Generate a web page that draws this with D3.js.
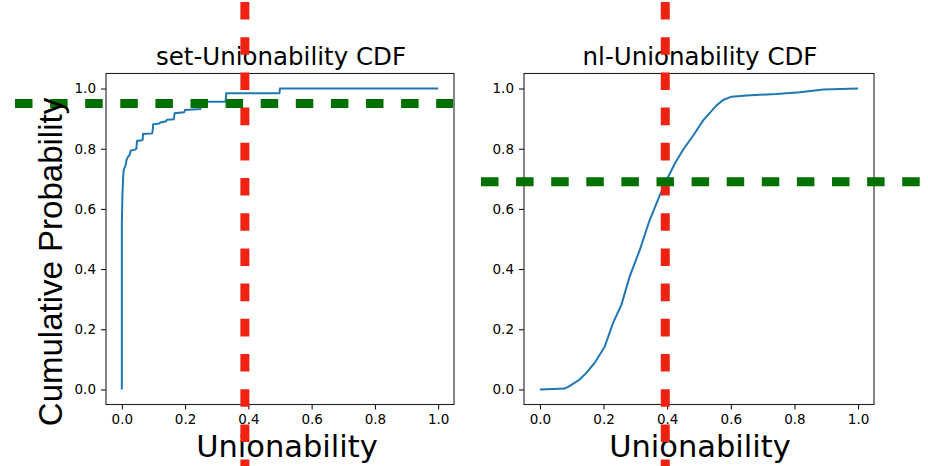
<!DOCTYPE html>
<html>
<head>
<meta charset="utf-8">
<script src="https://cdn.jsdelivr.net/npm/d3@7"></script>
<style>
  body { margin: 0; background: #fff; }
  text { font-family: "DejaVu Sans", sans-serif; }
</style>
</head>
<body>
<div id="chart"></div>
<script>
// set-Unionability CDF (step-like)
var setX = [0, 0, 0.001, 0.002, 0.004, 0.006, 0.012, 0.015, 0.02, 0.025, 0.028, 0.042, 0.046, 0.048,
            0.063, 0.066, 0.067, 0.096, 0.098, 0.099, 0.118, 0.122, 0.14, 0.142, 0.164, 0.166, 0.167,
            0.196, 0.198, 0.2, 0.248, 0.25, 0.251, 0.328, 0.33, 0.498, 0.5, 1.0];
var setY = [0, 0.55, 0.6, 0.65, 0.7, 0.73, 0.745, 0.763, 0.774, 0.78, 0.794, 0.797, 0.8, 0.826,
            0.828, 0.83, 0.849, 0.851, 0.865, 0.881, 0.884, 0.887, 0.891, 0.896, 0.898, 0.91, 0.918,
            0.921, 0.923, 0.929, 0.932, 0.945, 0.956, 0.956, 0.984, 0.984, 1.0, 1.0];

// nl-Unionability CDF (smooth S)
var nlX = [0, 0.078, 0.093, 0.125, 0.146, 0.172, 0.204, 0.23, 0.256, 0.282, 0.314, 0.345, 0.377,
           0.403, 0.424, 0.452, 0.482, 0.513, 0.555, 0.576, 0.602, 0.65, 0.744, 0.817, 0.891, 1.0];
var nlY = [0, 0.003, 0.011, 0.033, 0.055, 0.088, 0.143, 0.221, 0.281, 0.375, 0.464, 0.563, 0.646,
           0.706, 0.751, 0.80, 0.844, 0.894, 0.944, 0.962, 0.973, 0.977, 0.982, 0.988, 0.997, 1.0];

var ticks = [0, 0.2, 0.4, 0.6, 0.8, 1.0];
var titles = ["set-Unionability CDF", "nl-Unionability CDF"];
var xLabel = "Unionability";
var yLabel = "Cumulative Probability";

// thresholds drawn over the figure
var redX = [0.389, 0.394];
var greenY = [0.95, 0.69];

var width = 928, height = 466;

var svg = d3.select("#chart")
            .append("svg")
            .attr("width", width)
            .attr("height", height);

svg.append("rect")
   .attr("width", width)
   .attr("height", height)
   .attr("fill", "#fff");

// panel positions
var panels = [
  {left: 106, right: 454, x: setX, y: setY, green: [15, 453], labelShift: 7},
  {left: 524, right: 874, x: nlX, y: nlY, green: [481, 921], labelShift: 1}
];
var plotTop = 73.5, plotBottom = 404.5;

panels.forEach(function(p, i) {
  var x = d3.scaleLinear().domain([-0.05, 1.05]).range([p.left, p.right]);
  var y = d3.scaleLinear().domain([-0.05, 1.05]).range([plotBottom, plotTop]);
  p.xs = x; p.ys = y;

  var g = svg.append("g");

  // x axis
  var xa = g.append("g")
            .attr("transform", "translate(0," + plotBottom + ")")
            .call(d3.axisBottom(x).tickValues(ticks).tickFormat(d3.format(".1f"))
                    .tickSize(5).tickPadding(5));
  // y axis
  var ya = g.append("g")
            .attr("transform", "translate(" + p.left + ",0)")
            .call(d3.axisLeft(y).tickValues(ticks).tickFormat(d3.format(".1f"))
                    .tickSize(5).tickPadding(5));

  [xa, ya].forEach(function(a) {
    a.attr("font-size", null).attr("font-family", null);
    a.select(".domain").remove();
    a.selectAll("text")
     .style("font-family", "DejaVu Sans")
     .style("font-size", "13.5px")
     .attr("fill", "#000");
    a.selectAll("line").attr("stroke", "#000").attr("stroke-width", 1);
  });

  // frame
  g.append("rect")
   .attr("x", p.left)
   .attr("y", plotTop)
   .attr("width", p.right - p.left)
   .attr("height", plotBottom - plotTop)
   .attr("fill", "none")
   .attr("stroke", "#222")
   .attr("stroke-width", 1.1);

  // curve
  var line = d3.line()
               .x(function(d) { return x(d[0]); })
               .y(function(d) { return y(d[1]); });

  g.append("path")
   .datum(d3.zip(p.x, p.y))
   .attr("d", line)
   .attr("fill", "none")
   .attr("stroke", "#1f77b4")
   .attr("stroke-width", 2);

  // title
  g.append("text")
   .attr("x", (p.left + p.right) / 2 + 1)
   .attr("y", 65)
   .attr("text-anchor", "middle")
   .style("font-size", "24.5px")
   .text(titles[i]);

  // x label
  g.append("text")
   .attr("x", (p.left + p.right) / 2 + p.labelShift)
   .attr("y", 457)
   .attr("text-anchor", "middle")
   .style("font-size", "30.5px")
   .text(xLabel);
});

// red vertical dashed lines over the whole figure height
panels.forEach(function(p, i) {
  svg.append("line")
     .attr("x1", p.xs(redX[i]))
     .attr("x2", p.xs(redX[i]))
     .attr("y1", 2)
     .attr("y2", height)
     .attr("stroke", "#f02312")
     .attr("stroke-width", 9)
     .attr("stroke-dasharray", "17.6 17.6");
});

// green horizontal dashed lines
panels.forEach(function(p, i) {
  svg.append("line")
     .attr("x1", p.green[0])
     .attr("x2", p.green[1])
     .attr("y1", p.ys(greenY[i]))
     .attr("y2", p.ys(greenY[i]))
     .attr("stroke", "#007000")
     .attr("stroke-width", 9)
     .attr("stroke-dasharray", "17.5 17.6");
});

// shared y label
svg.append("text")
   .attr("transform", "translate(62,262) rotate(-90)")
   .attr("text-anchor", "middle")
   .style("font-family", "Liberation Sans")
   .style("font-size", "33px")
   .text(yLabel);
</script>
</body>
</html>
